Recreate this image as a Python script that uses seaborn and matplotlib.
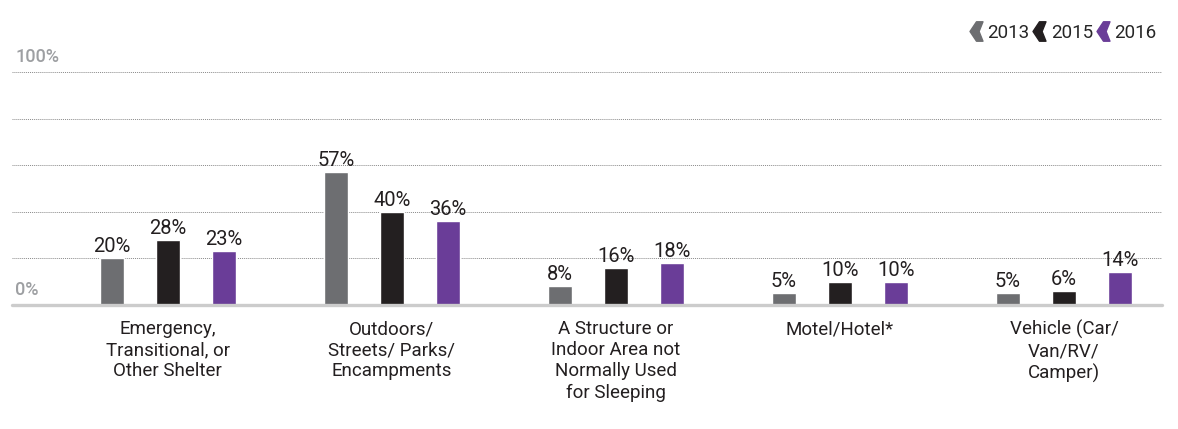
import numpy as np
import pandas as pd
import seaborn as sns
import matplotlib.pyplot as plt
from matplotlib.path import Path
from matplotlib.lines import Line2D

categories = [
    "Emergency,\nTransitional, or\nOther Shelter",
    "Outdoors/\nStreets/ Parks/\nEncampments",
    "A Structure or\nIndoor Area not\nNormally Used\nfor Sleeping",
    "Motel/Hotel*",
    "Vehicle (Car/\nVan/RV/\nCamper)",
]
years = ["2013", "2015", "2016"]
vals_2013 = [20, 57, 8, 5, 5]
vals_2015 = [28, 40, 16, 10, 6]
vals_2016 = [23, 36, 18, 10, 14]
colors = ["#6d6e71", "#231f20", "#6a3d98"]

rows = []
for yr, vals in zip(years, [vals_2013, vals_2015, vals_2016]):
    for cat, v in zip(categories, vals):
        rows.append({"category": cat, "year": yr, "value": v})
df = pd.DataFrame(rows)

sns.set_theme(style="white")
plt.rcParams['font.family'] = ['Roboto', 'DejaVu Sans']

fig = plt.figure(figsize=(11.78, 4.29), dpi=100)
ax = fig.add_axes([12 / 1178, 124 / 429, 1150 / 1178, 233 / 429])

sns.barplot(data=df, x="category", y="value", hue="year", order=categories,
            hue_order=years, palette=colors, width=0.75, gap=0.57,
            saturation=1, legend=False, ax=ax, zorder=3)

for cont in ax.containers:
    ax.bar_label(cont, fmt="%d%%", padding=1.5, fontsize=14.5, color="#231f20", zorder=4)

ax.set_xlim(-0.696, 4.4375)
ax.set_ylim(0, 100)
ax.set_yticks([20, 40, 60, 80, 100])
ax.set_yticklabels([])
ax.tick_params(axis="y", length=0)
ax.grid(axis="y", linestyle=(0, (1, 1)), color="#8a8a8a", linewidth=0.7, zorder=0)
ax.set_axisbelow(True)
for s in ax.spines.values():
    s.set_visible(False)
ax.axhline(0, color="#cccccc", lw=2.4, clip_on=False, zorder=5)

ax.set_xlabel("")
ax.set_ylabel("")
ax.tick_params(axis="x", length=0, pad=11)
ax.set_xticks(range(len(categories)))
ax.set_xticklabels(categories, fontsize=13.5, color="#231f20", linespacing=1.22, va="top")

ytxt = dict(color="#9d9fa2", fontsize=13, fontweight="medium",
            transform=ax.get_yaxis_transform(), va="center", ha="left")
ax.text(0.003, 106.5, "100%", **ytxt)
ax.text(0.003, 6.5, "0%", **ytxt)

chevron = Path([(0.5, 0.75), (0.0, 0.75), (-0.5, 0.0), (0.0, -0.75),
                (0.5, -0.75), (0.2, 0.0), (0.5, 0.75)],
               [Path.MOVETO] + [Path.LINETO] * 5 + [Path.CLOSEPOLY])
handles = [Line2D([], [], marker=chevron, color=c, markersize=14, linestyle="none")
           for c in colors]
fig.legend(handles, years, loc="center right", bbox_to_anchor=(1166 / 1178, 1 - 33 / 429),
           ncol=3, frameon=False, fontsize=13.5, handletextpad=0.15,
           columnspacing=0.1, handlelength=0.9, borderpad=0)

fig.savefig("out.png", dpi=100)
